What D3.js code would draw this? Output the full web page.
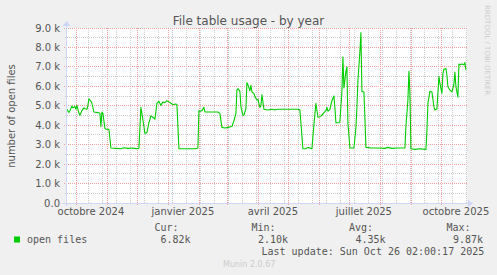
<!DOCTYPE html>
<html>
<head>
<meta charset="utf-8">
<script src="https://cdn.jsdelivr.net/npm/d3@7"></script>
<style>
  html, body { margin: 0; padding: 0; background: #f0f0f0; }
  svg { display: block; }
</style>
</head>
<body>
<div id="chart"></div>
<script>
// Chart data
const dates = [
  "2024-09-21","2024-09-23","2024-09-24","2024-09-26","2024-09-27","2024-09-29","2024-09-30",
  "2024-10-01","2024-10-03","2024-10-04","2024-10-06","2024-10-08","2024-10-09","2024-10-11",
  "2024-10-12","2024-10-13","2024-10-15","2024-10-16","2024-10-18","2024-10-22","2024-10-24",
  "2024-10-25","2024-10-26","2024-10-27","2024-10-29","2024-10-30","2024-11-02","2024-11-04",
  "2024-11-09","2024-11-14","2024-11-17","2024-11-21","2024-11-26","2024-11-29","2024-12-02",
  "2024-12-04","2024-12-06","2024-12-08","2024-12-10","2024-12-12","2024-12-14","2024-12-16",
  "2024-12-18","2024-12-20","2024-12-22","2024-12-24","2024-12-26","2024-12-28","2024-12-30",
  "2025-01-01","2025-01-03","2025-01-05","2025-01-08","2025-01-09","2025-01-11","2025-01-17",
  "2025-01-24","2025-01-28","2025-01-30","2025-01-31","2025-02-01","2025-02-03","2025-02-05",
  "2025-02-06","2025-02-13","2025-02-19","2025-02-21","2025-02-23","2025-02-26","2025-03-01",
  "2025-03-05","2025-03-07","2025-03-09","2025-03-10","2025-03-11","2025-03-13","2025-03-14",
  "2025-03-16","2025-03-17","2025-03-19","2025-03-20","2025-03-21","2025-03-23","2025-03-24",
  "2025-03-25","2025-03-27","2025-03-28","2025-03-30","2025-03-31","2025-04-02","2025-04-03",
  "2025-04-04","2025-04-06","2025-04-10","2025-04-14","2025-04-17","2025-04-19","2025-04-27",
  "2025-05-07","2025-05-10","2025-05-12","2025-05-15","2025-05-18","2025-05-20","2025-05-24",
  "2025-05-26","2025-05-28","2025-05-30","2025-06-01","2025-06-03","2025-06-05","2025-06-07",
  "2025-06-08","2025-06-09","2025-06-11","2025-06-13","2025-06-15","2025-06-16","2025-06-17",
  "2025-06-20","2025-06-21","2025-06-23","2025-06-24","2025-06-25","2025-06-27","2025-06-28",
  "2025-06-29","2025-07-01","2025-07-05","2025-07-07","2025-07-08","2025-07-09","2025-07-11",
  "2025-07-12","2025-07-13","2025-07-15","2025-07-16","2025-07-17","2025-07-23","2025-07-29",
  "2025-08-05","2025-08-08","2025-08-12","2025-08-18","2025-08-25","2025-08-26","2025-08-28",
  "2025-08-29","2025-08-30","2025-08-31","2025-09-04","2025-09-09","2025-09-15","2025-09-16",
  "2025-09-17","2025-09-19","2025-09-21","2025-09-23","2025-09-24","2025-09-26","2025-09-28",
  "2025-09-29","2025-10-01","2025-10-02","2025-10-03","2025-10-05","2025-10-06","2025-10-07",
  "2025-10-09","2025-10-11","2025-10-13","2025-10-14","2025-10-15","2025-10-17","2025-10-18",
  "2025-10-19","2025-10-21","2025-10-23","2025-10-24","2025-10-25"
];

const openFiles = [
  4820,4650,4750,4990,4890,4960,4820,
  5020,4610,4510,4750,4890,4850,4820,
  5020,5360,5230,5130,4680,4650,4610,
  3930,4680,4610,3840,3790,3790,2830,
  2810,2790,2840,2810,2830,2790,2810,
  4920,4270,3580,3620,4130,4480,4410,
  4310,5130,5230,5020,5200,5160,5260,
  5200,5130,5060,5090,5060,2790,2790,
  2790,2790,2830,4750,4720,4750,4920,
  4680,4680,4680,4610,3890,3860,3890,
  3930,4230,4610,5810,5880,5740,4960,
  4510,4510,4850,6190,6090,5780,6050,
  5710,5640,5470,5300,5330,4920,4990,
  5570,4820,4780,4820,4780,4820,4820,
  4820,4820,4780,2790,2790,2860,2790,
  4030,5130,4410,4440,4510,4650,4750,
  4920,4720,4820,5260,5500,4890,4130,
  4130,4200,5740,7500,5920,6770,7010,
  4100,2830,2830,3860,4920,6290,7800,
  8760,5740,5710,4370,2860,2830,2830,
  2810,2860,2810,2830,2830,3930,5300,
  6770,5640,2790,2760,2790,2760,3690,
  5130,5740,5710,4960,4780,4850,6500,
  6160,5640,6640,6880,6910,6570,5980,
  5810,5710,6120,6740,5980,5440,7150,
  7110,7150,7110,7220,6840
];

// Axis ticks and labels
const yTicks = [0, 1000, 2000, 3000, 4000, 5000, 6000, 7000, 8000, 9000];
const monthLabels = ["octobre 2024", "janvier 2025", "avril 2025", "juillet 2025", "octobre 2025"];
const monthLabelDates = ["2024-10-15", "2025-01-15", "2025-04-15", "2025-07-15", "2025-10-15"];

// Legend values
const legendHeaders = ["Cur:", "Min:", "Avg:", "Max:"];
const legendValues = ["6.82k", "2.10k", "4.35k", "9.87k"];

const width = 497;
const height = 275;
const plot = {left: 67, right: 467, top: 28, bottom: 203};

const fontColor = "#555";
const lineColor = "#00cc00";
const axisColor = "#cfd6f8";

const parseDate = d3.utcParse("%Y-%m-%d");
const data = dates.map((d, i) => ({date: parseDate(d), value: openFiles[i]}));

const endTime = new Date(Date.UTC(2025, 9, 26, 2, 0, 17));
const startTime = d3.utcDay.offset(endTime, -400);

const x = d3.scaleUtc()
    .domain([startTime, endTime])
    .range([plot.left, plot.right]);

const y = d3.scaleLinear()
    .domain([0, 9000])
    .range([plot.bottom, plot.top]);

const px = v => Math.floor(v) + 0.5;

const svg = d3.select("#chart")
    .append("svg")
    .attr("width", width)
    .attr("height", height)
    .style("font-family", "'DejaVu Sans', sans-serif");

svg.append("rect")
    .attr("width", width)
    .attr("height", height)
    .attr("fill", "#f0f0f0");

// Canvas
svg.append("rect")
    .attr("x", plot.left)
    .attr("y", plot.top)
    .attr("width", plot.right - plot.left)
    .attr("height", plot.bottom - plot.top)
    .attr("fill", "#ffffff");

const grid = svg.append("g")
    .attr("stroke-dasharray", "1,1")
    .attr("shape-rendering", "crispEdges");

// Minor horizontal grid (every 500)
const minorY = d3.range(500, 9000, 1000);
grid.selectAll(".ygrid-minor")
    .data(minorY)
    .enter()
    .append("line")
    .attr("x1", plot.left - 2)
    .attr("x2", plot.right)
    .attr("y1", d => px(y(d)))
    .attr("y2", d => px(y(d)))
    .attr("stroke", "#cccccc");

// Minor vertical grid: every two weeks, on Sundays
const minorX = d3.utcDay.range(new Date(Date.UTC(2024, 9, 13)), endTime, 14);
grid.selectAll(".xgrid-minor")
    .data(minorX)
    .enter()
    .append("line")
    .attr("x1", d => px(x(d)))
    .attr("x2", d => px(x(d)))
    .attr("y1", plot.top)
    .attr("y2", plot.bottom)
    .attr("stroke", "#cccccc");

// Major horizontal grid
grid.selectAll(".ygrid-major")
    .data(yTicks)
    .enter()
    .append("line")
    .attr("x1", plot.left - 3)
    .attr("x2", plot.right)
    .attr("y1", d => px(y(d)))
    .attr("y2", d => px(y(d)))
    .attr("stroke", "#f2a0a0");

// Major vertical grid: month starts
const months = d3.utcMonth.range(startTime, endTime);
grid.selectAll(".xgrid-major")
    .data(months)
    .enter()
    .append("line")
    .attr("x1", d => px(x(d)))
    .attr("x2", d => px(x(d)))
    .attr("y1", plot.top)
    .attr("y2", plot.bottom + 3)
    .attr("stroke", "#f2a0a0");

// Axes with arrows
const axes = svg.append("g")
    .attr("stroke", axisColor)
    .attr("shape-rendering", "crispEdges");

axes.append("line")
    .attr("x1", plot.left - 5)
    .attr("x2", plot.right + 2)
    .attr("y1", px(plot.bottom))
    .attr("y2", px(plot.bottom));

axes.append("line")
    .attr("x1", px(plot.left - 1))
    .attr("x2", px(plot.left - 1))
    .attr("y1", plot.bottom + 3)
    .attr("y2", plot.top - 4);

svg.append("path")
    .attr("d", `M${plot.right + 1},${plot.bottom - 3} L${plot.right + 6},${plot.bottom + 0.5} L${plot.right + 1},${plot.bottom + 4} Z`)
    .attr("fill", axisColor);

svg.append("path")
    .attr("d", `M${plot.left - 4.5},${plot.top - 2} L${plot.left - 0.5},${plot.top - 7} L${plot.left + 3.5},${plot.top - 2} Z`)
    .attr("fill", axisColor);

// Data line
svg.append("defs")
    .append("clipPath")
    .attr("id", "plot-clip")
    .append("rect")
    .attr("x", plot.left)
    .attr("y", plot.top - 1)
    .attr("width", plot.right - plot.left)
    .attr("height", plot.bottom - plot.top + 1);

const line = d3.line()
    .x(d => x(d.date))
    .y(d => y(d.value));

svg.append("path")
    .datum(data)
    .attr("clip-path", "url(#plot-clip)")
    .attr("d", line)
    .attr("fill", "none")
    .attr("stroke", lineColor)
    .attr("stroke-width", 1.1)
    .attr("stroke-linejoin", "round");

// Y tick labels
svg.selectAll(".ylabel")
    .data(yTicks)
    .enter()
    .append("text")
    .attr("x", 60)
    .attr("y", d => y(d) + 3.5)
    .attr("text-anchor", "end")
    .attr("font-size", 10)
    .attr("fill", fontColor)
    .text(d => d === 0 ? "0.0" : d3.format(".1f")(d / 1000) + " k");

// X labels
svg.selectAll(".xlabel")
    .data(monthLabels)
    .enter()
    .append("text")
    .attr("x", (d, i) => x(parseDate(monthLabelDates[i])))
    .attr("y", 215)
    .attr("text-anchor", "middle")
    .attr("font-size", 10)
    .attr("fill", fontColor)
    .text(d => d);

// Title
svg.append("text")
    .attr("x", 248.5)
    .attr("y", 25)
    .attr("text-anchor", "middle")
    .attr("font-size", 12)
    .attr("fill", fontColor)
    .text("File table usage - by year");

// Vertical axis label
svg.append("text")
    .attr("transform", "translate(15,116) rotate(-90)")
    .attr("text-anchor", "middle")
    .attr("font-size", 10)
    .attr("fill", fontColor)
    .text("number of open files");

// Watermarks
svg.append("text")
    .attr("transform", "translate(485,5) rotate(90)")
    .attr("font-size", 7)
    .attr("fill", "#cccccc")
    .text("RRDTOOL / TOBI OETIKER");

svg.append("text")
    .attr("x", 223)
    .attr("y", 267)
    .attr("font-size", 8)
    .attr("fill", "#cccccc")
    .text("Munin 2.0.67");

// Legend
const legend = svg.append("g")
    .style("font-family", "'DejaVu Sans Mono', monospace")
    .attr("font-size", 10)
    .attr("fill", fontColor);

legend.append("rect")
    .attr("x", 14)
    .attr("y", 236.5)
    .attr("width", 6)
    .attr("height", 6)
    .attr("fill", lineColor);

legend.append("text")
    .attr("x", 27)
    .attr("y", 242.5)
    .text("open files");

const headerX = [154.5, 251.5, 349, 446.5];
const valueX = [160.5, 258, 355.5, 453];

legend.selectAll(".lhead")
    .data(legendHeaders)
    .enter()
    .append("text")
    .attr("x", (d, i) => headerX[i])
    .attr("y", 230.5)
    .text(d => d);

legend.selectAll(".lval")
    .data(legendValues)
    .enter()
    .append("text")
    .attr("x", (d, i) => valueX[i])
    .attr("y", 242.5)
    .text(d => d);

legend.append("text")
    .attr("x", 261.5)
    .attr("y", 254.5)
    .text("Last update: Sun Oct 26 02:00:17 2025");
</script>
</body>
</html>
